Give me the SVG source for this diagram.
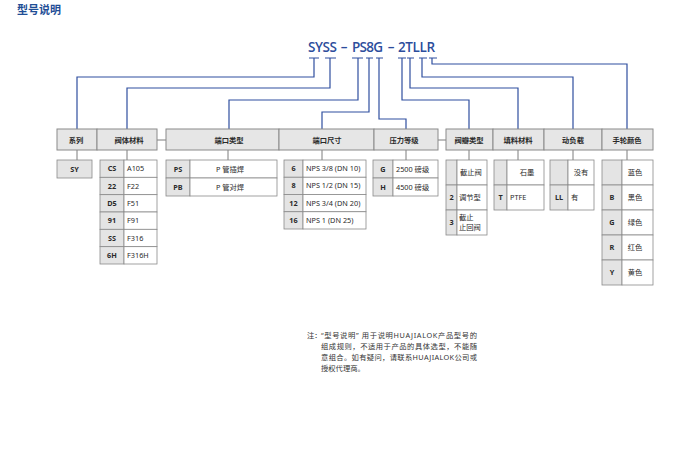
<svg xmlns="http://www.w3.org/2000/svg" width="678" height="449" viewBox="0 0 678 449">
<style>
text{font-family:"Noto Sans","Noto Sans CJK SC",sans-serif;fill:#2a2a2a}
.title{font-size:11px;font-weight:bold;fill:#1f4e96}
.code{font-family:"Open Sans","Noto Sans",sans-serif;font-size:13.5px;font-weight:600;fill:#2c4d9c}
.hd{fill:#e6e6e6;stroke:#8a8a8a;stroke-width:1}
.ht{font-size:7.3px;font-weight:bold;text-anchor:middle}
.cc{fill:#e4e4e4;stroke:#8a8a8a;stroke-width:0.8}
.vc{fill:#ffffff;stroke:#8a8a8a;stroke-width:0.8}
.k{font-size:7.3px;font-weight:bold;text-anchor:middle}
.v{font-size:7.3px}
.vm{font-size:7.3px;text-anchor:middle}
.blue{fill:none;stroke:#2f4f9f;stroke-width:1.2}
.gray{fill:none;stroke:#6e6e6e;stroke-width:0.9}
.note{font-size:7.3px;fill:#333}
</style>
<text class="title" x="17" y="14">型号说明</text>
<g id="code">
<text class="code" x="308" y="52" textLength="29">SYSS</text>
<text class="code" x="344" y="52" text-anchor="middle">–</text>
<text class="code" x="352" y="52" textLength="31">PS8G</text>
<text class="code" x="391" y="52" text-anchor="middle">–</text>
<text class="code" x="398" y="52" textLength="37">2TLLR</text>
</g>
<g id="connectors">
<path class="blue" d="M309,58H319M314,58V77H77V129"/>
<path class="blue" d="M325,58H336M330,58V88H127V129"/>
<path class="blue" d="M352,58H363M358,58V100H229V129"/>
<path class="blue" d="M366,58H373M369,58V112H322V129"/>
<path class="blue" d="M376,58H383M379,58V119H406V129"/>
<path class="blue" d="M398,58H406M402,58V100H469V129"/>
<path class="blue" d="M407,58H414M410,58V88H518V129"/>
<path class="blue" d="M419,58H427M422,58V77H573V129"/>
<path class="blue" d="M429,58H437M432,58V64H627V129"/>
<path class="gray" d="M157,140H166M438,140H446"/>
<path class="gray" d="M77,150V160M127,150V160M228,150V160M322,150V160M406,150V160M469,150V160M518,150V160M573,150V160M627,150V160"/>
</g>
<g id="header">
<rect class="hd" x="57" y="129" width="40" height="21"/><text class="ht" x="76" y="143">系列</text>
<rect class="hd" x="97" y="129" width="60" height="21"/><text class="ht" x="129" y="143">阀体材料</text>
<rect class="hd" x="166" y="129" width="113" height="21"/><text class="ht" x="229" y="143">端口类型</text>
<rect class="hd" x="279" y="129" width="95" height="21"/><text class="ht" x="327" y="143">端口尺寸</text>
<rect class="hd" x="374" y="129" width="64" height="21"/><text class="ht" x="404" y="143">压力等级</text>
<rect class="hd" x="446" y="129" width="47" height="21"/><text class="ht" x="469" y="143">阀瓣类型</text>
<rect class="hd" x="493" y="129" width="51" height="21"/><text class="ht" x="518" y="143">填料材料</text>
<rect class="hd" x="544" y="129" width="58" height="21"/><text class="ht" x="573" y="143">动负载</text>
<rect class="hd" x="602" y="129" width="51" height="21"/><text class="ht" x="627" y="143">手轮颜色</text>
</g>
<g id="series">
<rect class="cc" x="57" y="160" width="35" height="18"/><text class="k" x="74.5" y="171.5">SY</text>
</g>
<g id="body-material">
<rect class="cc" x="100" y="160" width="24" height="17.33"/><rect class="vc" x="124" y="160" width="33" height="17.33"/>
<rect class="cc" x="100" y="177.33" width="24" height="17.33"/><rect class="vc" x="124" y="177.33" width="33" height="17.33"/>
<rect class="cc" x="100" y="194.67" width="24" height="17.33"/><rect class="vc" x="124" y="194.67" width="33" height="17.33"/>
<rect class="cc" x="100" y="212" width="24" height="17.33"/><rect class="vc" x="124" y="212" width="33" height="17.33"/>
<rect class="cc" x="100" y="229.33" width="24" height="17.33"/><rect class="vc" x="124" y="229.33" width="33" height="17.33"/>
<rect class="cc" x="100" y="246.67" width="24" height="17.33"/><rect class="vc" x="124" y="246.67" width="33" height="17.33"/>
<text class="k" x="112" y="171.2">CS</text><text class="v" x="127" y="171.2">A105</text>
<text class="k" x="112" y="188.5">22</text><text class="v" x="127" y="188.5">F22</text>
<text class="k" x="112" y="205.8">D5</text><text class="v" x="127" y="205.8">F51</text>
<text class="k" x="112" y="223.2">91</text><text class="v" x="127" y="223.2">F91</text>
<text class="k" x="112" y="240.5">SS</text><text class="v" x="127" y="240.5">F316</text>
<text class="k" x="112" y="257.8">6H</text><text class="v" x="127" y="257.8">F316H</text>
</g>
<g id="end-type">
<rect class="cc" x="166" y="160" width="24" height="18"/><rect class="vc" x="190" y="160" width="87" height="18"/>
<rect class="cc" x="166" y="178" width="24" height="18"/><rect class="vc" x="190" y="178" width="87" height="18"/>
<text class="k" x="178" y="171.5">PS</text><text class="vm" x="230" y="171.5">P 管插焊</text>
<text class="k" x="178" y="189.5">PB</text><text class="vm" x="230" y="189.5">P 管对焊</text>
</g>
<g id="end-size">
<rect class="cc" x="284" y="160" width="19" height="17.25"/><rect class="vc" x="303" y="160" width="63" height="17.25"/>
<rect class="cc" x="284" y="177.25" width="19" height="17.25"/><rect class="vc" x="303" y="177.25" width="63" height="17.25"/>
<rect class="cc" x="284" y="194.5" width="19" height="17.25"/><rect class="vc" x="303" y="194.5" width="63" height="17.25"/>
<rect class="cc" x="284" y="211.75" width="19" height="17.25"/><rect class="vc" x="303" y="211.75" width="63" height="17.25"/>
<text class="k" x="293.5" y="171.2">6</text><text class="v" x="306" y="171.2">NPS 3/8 (DN 10)</text>
<text class="k" x="293.5" y="188.4">8</text><text class="v" x="306" y="188.4">NPS 1/2 (DN 15)</text>
<text class="k" x="293.5" y="205.7">12</text><text class="v" x="306" y="205.7">NPS 3/4 (DN 20)</text>
<text class="k" x="293.5" y="222.9">16</text><text class="v" x="306" y="222.9">NPS 1 (DN 25)</text>
</g>
<g id="pressure">
<rect class="cc" x="373" y="160" width="20" height="18"/><rect class="vc" x="393" y="160" width="45" height="18"/>
<rect class="cc" x="373" y="178" width="20" height="18"/><rect class="vc" x="393" y="178" width="45" height="18"/>
<text class="k" x="383" y="171.5">G</text><text class="v" x="396" y="171.5">2500 磅级</text>
<text class="k" x="383" y="189.5">H</text><text class="v" x="396" y="189.5">4500 磅级</text>
</g>
<g id="disc-type">
<rect class="cc" x="446" y="160" width="11" height="25"/><rect class="vc" x="457" y="160" width="30" height="25"/>
<rect class="cc" x="446" y="185" width="11" height="25"/><rect class="vc" x="457" y="185" width="30" height="25"/>
<rect class="cc" x="446" y="210" width="11" height="25"/><rect class="vc" x="457" y="210" width="30" height="25"/>
<text class="v" x="460" y="175">截止阀</text>
<text class="k" x="451.5" y="200">2</text><text class="v" x="459" y="200">调节型</text>
<text class="k" x="451.5" y="225">3</text><text class="v" x="459" y="220">截止</text><text class="v" x="459" y="230">止回阀</text>
</g>
<g id="packing">
<rect class="cc" x="494" y="160" width="13" height="25"/><rect class="vc" x="507" y="160" width="37" height="25"/>
<rect class="cc" x="494" y="185" width="13" height="25"/><rect class="vc" x="507" y="185" width="37" height="25"/>
<text class="vm" x="527" y="175">石墨</text>
<text class="k" x="500.5" y="200">T</text><text class="v" x="510" y="200">PTFE</text>
</g>
<g id="live-load">
<rect class="cc" x="550" y="160" width="18" height="25"/><rect class="vc" x="568" y="160" width="26" height="25"/>
<rect class="cc" x="550" y="185" width="18" height="25"/><rect class="vc" x="568" y="185" width="26" height="25"/>
<text class="vm" x="581" y="175">没有</text>
<text class="k" x="559" y="200">LL</text><text class="v" x="571" y="200">有</text>
</g>
<g id="handle-color">
<rect class="cc" x="602" y="160" width="20" height="25"/><rect class="vc" x="622" y="160" width="31" height="25"/>
<rect class="cc" x="602" y="185" width="20" height="25"/><rect class="vc" x="622" y="185" width="31" height="25"/>
<rect class="cc" x="602" y="210" width="20" height="25"/><rect class="vc" x="622" y="210" width="31" height="25"/>
<rect class="cc" x="602" y="235" width="20" height="25"/><rect class="vc" x="622" y="235" width="31" height="25"/>
<rect class="cc" x="602" y="260" width="20" height="25"/><rect class="vc" x="622" y="260" width="31" height="25"/>
<text class="vm" x="635" y="175">蓝色</text>
<text class="k" x="612" y="200">B</text><text class="vm" x="635" y="200">黑色</text>
<text class="k" x="612" y="225">G</text><text class="vm" x="635" y="225">绿色</text>
<text class="k" x="612" y="250">R</text><text class="vm" x="635" y="250">红色</text>
<text class="k" x="612" y="275">Y</text><text class="vm" x="635" y="275">黄色</text>
</g>
<g id="note">
<text class="note" x="307" y="338">注：</text>
<text class="note" x="321" y="338" textLength="156">“型号说明” 用于说明HUAJIALOK产品型号的</text>
<text class="note" x="321" y="349" textLength="156">组成规则，不适用于产品的具体选型，不能随</text>
<text class="note" x="321" y="360" textLength="156">意组合。如有疑问，请联系HUAJIALOK公司或</text>
<text class="note" x="321" y="371">授权代理商。</text>
</g>
</svg>
